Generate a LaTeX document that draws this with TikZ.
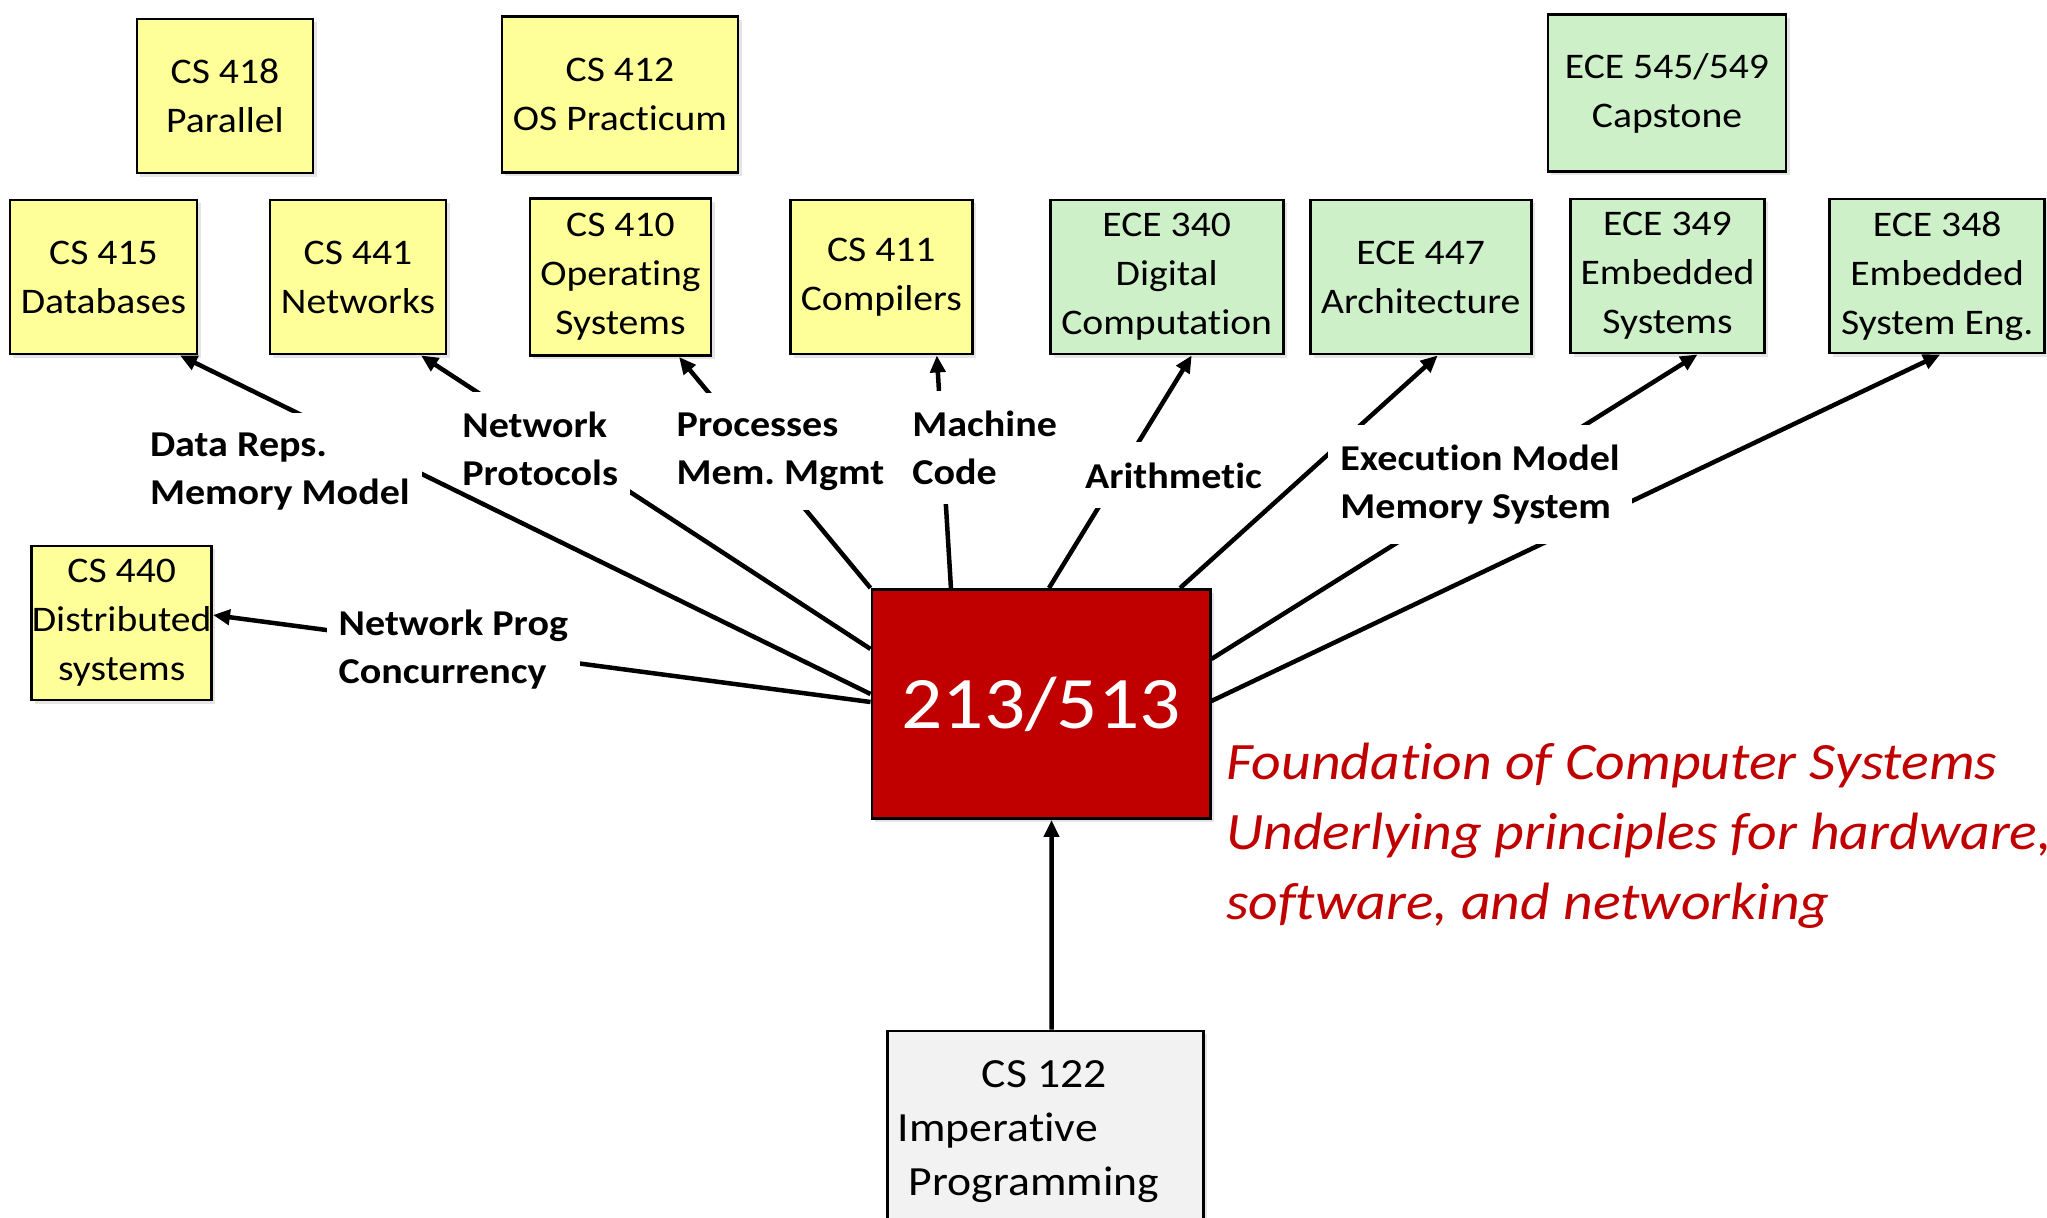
\documentclass[tikz,border=0pt]{standalone}
\usepackage{fontspec}
\setmainfont{Carlito}[FakeStretch=1.1, Ligatures=NoCommon]
\usetikzlibrary{arrows.meta,shadows}
\definecolor{csyellow}{RGB}{255,255,153}
\definecolor{ecegreen}{RGB}{206,240,200}
\definecolor{corered}{RGB}{192,0,0}
\definecolor{prereqgray}{RGB}{242,242,242}
\frenchspacing

\begin{document}
\begin{tikzpicture}[x=0.01cm, y=-0.01cm,
    >={Triangle[length=0.17cm,width=0.15cm]},
    course/.style={draw, line width=0.8pt, align=center, inner sep=0pt,
      font=\fontsize{0.36cm}{0.49cm}\selectfont,
      drop shadow={shadow xshift=0.035cm, shadow yshift=-0.035cm, opacity=0.2}},
    csbox/.style={course, fill=csyellow},
    ecebox/.style={course, fill=ecegreen},
    topic/.style={fill=white, align=left, anchor=base west, inner xsep=0.12cm, inner ysep=0.2cm,
      font=\bfseries\fontsize{0.364cm}{0.47cm}\selectfont},
    link/.style={->, line width=0.045cm}]
    \path[use as bounding box, fill=white] (0,0) rectangle (2047,1218);

    \node[csbox, minimum width=1.76cm, minimum height=1.54cm] (par) at (225,96) {CS 418\\Parallel};
    \node[csbox, minimum width=2.36cm, minimum height=1.56cm] (osp) at (620,94.5) {CS 412\\OS Practicum};
    \node[ecebox, minimum width=2.38cm, minimum height=1.57cm] (cap) at (1667,93) {ECE 545/549\\Capstone};
    \node[csbox, minimum width=1.87cm, minimum height=1.54cm] (db) at (103.5,277) {CS 415\\Databases};
    \node[csbox, minimum width=1.76cm, minimum height=1.54cm] (net) at (358,277) {CS 441\\Networks};
    \node[csbox, minimum width=1.81cm, minimum height=1.57cm] (os) at (620.5,277) {CS 410\\Operating\\Systems};
    \node[csbox, minimum width=1.82cm, minimum height=1.54cm] (comp) at (881.3,277) {CS 411\\Compilers};
    \node[ecebox, minimum width=2.33cm, minimum height=1.54cm] (dig) at (1166.7,277) {ECE 340\\Digital\\Computation};
    \node[ecebox, minimum width=2.21cm, minimum height=1.54cm] (arch) at (1420.7,277) {ECE 447\\Architecture};
    \node[ecebox, minimum width=1.94cm, minimum height=1.54cm] (emb) at (1667.5,276) {ECE 349\\Embedded\\Systems};
    \node[ecebox, minimum width=2.15cm, minimum height=1.54cm] (eng) at (1937.2,276) {ECE 348\\Embedded\\System Eng.};
    \node[csbox, minimum width=1.76cm, minimum height=1.54cm] (dist) at (121.7,623) {CS 440\\Distributed\\systems};

    \node[course, fill=corered, text=white, minimum width=3.38cm, minimum height=2.29cm,
      font=\fontsize{0.74cm}{0.9cm}\selectfont] (core) at (1041,704) {213/513};
    \node[course, fill=prereqgray, minimum width=3.16cm, minimum height=2.02cm, text width=2.95cm,
      align=flush left, font=\fontsize{0.415cm}{0.54cm}\selectfont] (imp) at (1045.5,1132)
      {\hspace*{0.84cm}CS 122\\Imperative\\\hspace*{0.11cm}Programming};

    \draw[link] (core.north west) -- ([xshift=0.585cm]os.south);
    \node[topic] (pm) at (664,484) {Processes\\Mem. Mgmt};
    \draw[link] ([yshift=0.55cm]core.west) -- ([xshift=0.63cm]net.south);
    \node[topic] (np) at (449.7,485) {Network\\Protocols};
    \draw[link] ([yshift=0.1cm]core.west) -- ([xshift=0.765cm]db.south);
    \node[topic] (dr) at (137.3,504) {Data Reps.\\Memory Model};

    \draw[link] ([xshift=-0.9cm]core.north) -- ([xshift=0.555cm]comp.south);
    \draw[link] ([xshift=0.08cm]core.north) -- ([xshift=0.25cm]dig.south);
    \node[topic] (ar) at (1072.4,488) {Arithmetic};
    \draw[link] ([xshift=1.39cm]core.north) -- ([xshift=0.17cm]arch.south);
    \draw[link] ([yshift=0.45cm]core.east) -- ([xshift=0.3cm]emb.south);
    \draw[link] ([yshift=0.03cm]core.east) -- ([xshift=0.03cm]eng.south);
    \draw[link] ([yshift=0.02cm]core.west) -- ([yshift=0.08cm]dist.east);
    \draw[link] ([xshift=0.06cm]imp.north) -- ([xshift=0.105cm]core.south);

    \node[topic] (mc) at (899.7,484) {Machine\\Code};
    \node[topic] (em) at (1327.7,518) {Execution Model\\Memory System};
    \node[topic] (nc) at (326,683) {Network Prog\\Concurrency};

    \node[anchor=base west, align=left, inner sep=0pt, text=corered,
      font=\itshape\fontsize{0.525cm}{0.7cm}\selectfont] (about) at (1225.5,919.7)
      {Foundation of Computer Systems\\Underlying principles for hardware,\\software, and networking};
\end{tikzpicture}
\end{document}
